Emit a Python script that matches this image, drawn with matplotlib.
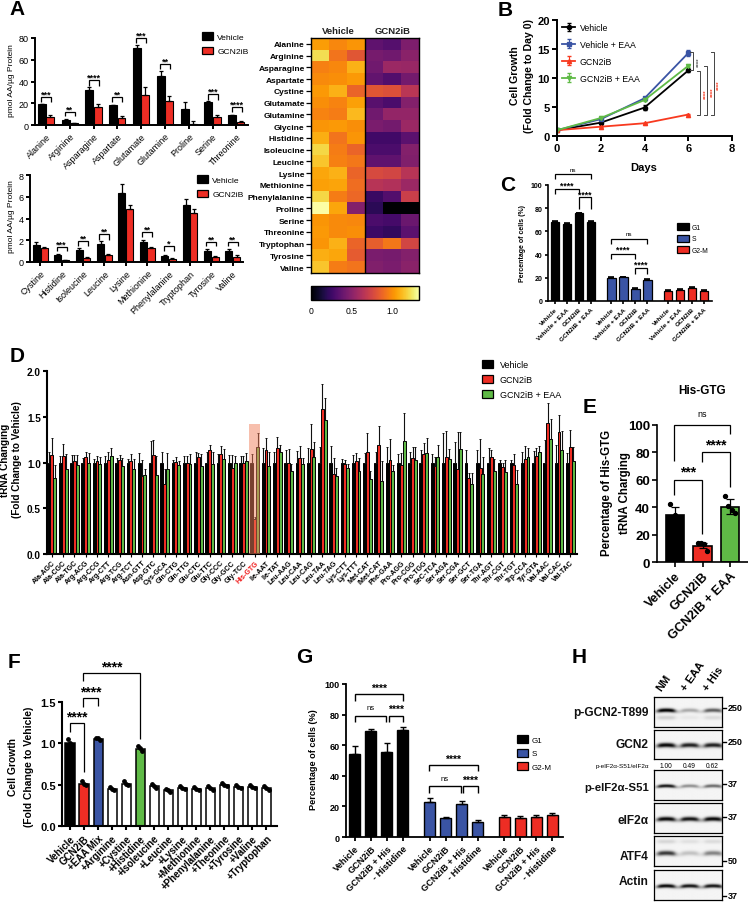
import numpy as np
import matplotlib
matplotlib.use('Agg')
import matplotlib.pyplot as plt
from matplotlib.patches import Patch, Rectangle

plt.rcParams['font.family'] = ['Liberation Sans', 'DejaVu Sans']

W, H = 748, 903
BLACK, RED, BLUE, GREEN = '#000000', '#ee2d24', '#3a54a4', '#5fba46'

# ---------- Panel A ----------
a1_names = ['Alanine', 'Arginine', 'Asparagine', 'Aspartate', 'Glutamate', 'Glutamine', 'Proline', 'Serine', 'Threonine']
a1_veh = [19, 4.5, 32, 18, 71, 45.5, 15, 21.5, 9]
a1_veh_top = [19.5, 5.5, 35, 18.5, 73.5, 49.5, 21, 22, 9.5]
a1_gcn = [7, 1.5, 16.5, 6.5, 27.5, 22.5, 1, 7.5, 2.5]
a1_gcn_top = [9, 2, 19.5, 8, 35, 26.5, 3.5, 9, 3.5]
a2_names = ['Cystine', 'Histidine', 'Isoleucine', 'Leucine', 'Lysine', 'Methionine', 'Phenylalanine', 'Tryptophan', 'Tyrosine', 'Valine']
a2_veh = [1.6, 0.6, 1.1, 1.65, 6.35, 1.85, 0.55, 5.25, 1.05, 1.05]
a2_veh_top = [1.8, 0.7, 1.3, 1.9, 7.2, 2.05, 0.65, 5.8, 1.15, 1.2]
a2_gcn = [1.25, 0.15, 0.4, 0.65, 4.9, 1.3, 0.25, 4.5, 0.5, 0.5]
a2_gcn_top = [1.35, 0.2, 0.5, 0.75, 5.25, 1.4, 0.35, 4.9, 0.55, 0.6]
heat_names = ['Alanine', 'Arginine', 'Asparagine', 'Aspartate', 'Cystine', 'Glutamate', 'Glutamine', 'Glycine', 'Histidine', 'Isoleucine', 'Leucine', 'Lysine', 'Methionine', 'Phenylalanine', 'Proline', 'Serine', 'Threonine', 'Tryptophan', 'Tyrosine', 'Valine']
heat_values = [
    [1.04, 0.98, 1.02, 0.36, 0.33, 0.46], [1.22, 0.92, 0.82, 0.44, 0.42, 0.50],
    [0.96, 0.98, 1.10, 0.42, 0.56, 0.55], [0.99, 1.00, 1.03, 0.37, 0.32, 0.43],
    [1.03, 1.10, 0.87, 0.82, 0.80, 0.66], [1.00, 0.97, 1.05, 0.34, 0.30, 0.48],
    [0.97, 0.95, 1.12, 0.42, 0.53, 0.53], [1.02, 1.03, 1.00, 0.45, 0.43, 0.56],
    [1.09, 0.92, 1.02, 0.27, 0.27, 0.35], [1.20, 0.95, 0.87, 0.30, 0.30, 0.48],
    [1.15, 0.96, 0.93, 0.36, 0.36, 0.47], [1.07, 1.10, 0.87, 0.77, 0.75, 0.65],
    [1.05, 1.06, 0.90, 0.65, 0.63, 0.56], [1.20, 0.95, 0.88, 0.24, 0.32, 0.72],
    [1.33, 1.07, 0.48, 0.20, 0.00, 0.00], [1.02, 0.99, 0.98, 0.30, 0.28, 0.40],
    [1.03, 0.99, 1.00, 0.25, 0.22, 0.35], [1.02, 1.10, 0.87, 0.85, 0.93, 0.75],
    [1.09, 1.07, 0.84, 0.45, 0.44, 0.48], [1.15, 0.95, 0.92, 0.47, 0.45, 0.50]]

# ---------- Panel B ----------
days = [0, 2, 4, 6]
b_series = ['Vehicle', 'Vehicle + EAA', 'GCN2iB', 'GCN2iB + EAA']
b_vehicle = [1, 2.3, 4.9, 11.3]
b_vehicle_err = [0.1, 0.15, 0.4, 0.2]
b_veh_eaa = [1, 2.9, 6.5, 14.3]
b_veh_eaa_err = [0.1, 0.15, 0.2, 0.5]
b_gcn = [1, 1.6, 2.2, 3.7]
b_gcn_err = [0.1, 0.1, 0.1, 0.1]
b_gcn_eaa = [1, 3.1, 6.2, 12.1]
b_gcn_eaa_err = [0.1, 0.15, 0.15, 0.2]

# ---------- Panel C ----------
c_labels = ['Vehicle', 'Vehicle + EAA', 'GCN2iB', 'GCN2iB + EAA']
c_g1 = [68.5, 66.5, 75.5, 68.5]
c_s = [19.5, 20.5, 10.5, 18]
c_g2m = [8.5, 9.5, 11, 9]
c_err = [0.8, 0.5, 0.7, 0.7]

# ---------- Panel D ----------
d_names = ['Ala-AGC', 'Ala-CGC', 'Ala-TGC', 'Arg-ACG', 'Arg-CCG', 'Arg-CTT', 'Arg-TCG', 'Arg-TCT', 'Asn-GTT', 'Asp-GTC', 'Cys-GCA', 'Gln-CTG', 'Gln-TTG', 'Glu-CTC', 'Glu-TTC', 'Gly-CCC', 'Gly-GCC', 'Gly-TCC', 'His-GTG', 'Ile-AAT', 'Ile-TAT', 'Leu-AAG', 'Leu-CAA', 'Leu-CAG', 'Leu-TAA', 'Leu-TAG', 'Lys-CTT', 'Lys-TTT', 'Met-CAT', 'iMet-CAT', 'Phe-GAA', 'Pro-AGG', 'Pro-CGG', 'Pro-TGG', 'SeC-TCA', 'Ser-AGA', 'Ser-CGA', 'Ser-GCT', 'Ser-TGA', 'Thr-AGT', 'Thr-CGT', 'Thr-TGT', 'Trp-CCA', 'Tyr-GTA', 'Val-AAC', 'Val-CAC', 'Val-TAC']
d_veh_top = [1.12, 1.07, 1.08, 1.05, 1.04, 1.07, 1.05, 1.04, 1.10, 1.24, 1.11, 1.03, 1.07, 1.12, 1.12, 1.09, 1.08, 1.07, 1.09, 1.16, 1.12, 1.14, 1.13, 1.16, 1.17, 1.18, 1.04, 1.08, 1.10, 1.11, 1.17, 1.09, 1.12, 1.14, 1.09, 1.32, 1.22, 1.14, 1.14, 1.16, 1.03, 1.03, 1.12, 1.13, 1.25, 1.19, 1.10]
d_red = [1.08, 1.07, 1.02, 1.06, 1.02, 1.03, 1.03, 1.02, 0.85, 1.08, 0.77, 1.01, 1.00, 1.055, 1.135, 1.09, 0.945, 1.00, 0.38, 1.14, 1.16, 0.99, 1.05, 1.15, 1.58, 0.87, 0.98, 1.02, 1.12, 1.19, 1.03, 0.97, 1.05, 1.09, 0.96, 1.06, 0.93, 0.83, 0.945, 1.055, 0.95, 0.97, 1.04, 1.07, 1.43, 1.33, 1.17]
d_red_top = [1.27, 1.20, 1.08, 1.12, 1.07, 1.12, 1.08, 1.09, 1.03, 1.25, 0.93, 1.06, 1.07, 1.10, 1.19, 1.18, 1.08, 1.07, 0.40, 1.27, 1.28, 1.15, 1.18, 1.42, 1.86, 1.05, 1.03, 1.10, 1.32, 1.40, 1.26, 1.10, 1.17, 1.21, 1.06, 1.34, 1.33, 0.89, 1.26, 1.135, 1.00, 1.095, 1.18, 1.16, 1.65, 1.52, 1.36]
d_green = [0.83, 0.93, 0.97, 1.00, 0.98, 1.07, 0.96, 0.93, 0.86, 0.86, 0.93, 0.97, 0.98, 0.965, 0.98, 1.04, 1.00, 1.015, 1.17, 0.96, 1.11, 0.91, 0.985, 1.06, 1.46, 0.85, 0.94, 0.91, 0.82, 0.80, 0.91, 1.23, 1.03, 1.10, 1.06, 1.04, 1.15, 0.77, 0.87, 0.91, 0.90, 0.77, 1.06, 1.12, 1.26, 1.14, 1.02]
d_green_top = [0.97, 1.09, 1.08, 1.10, 1.06, 1.16, 1.05, 1.04, 0.93, 1.07, 1.10, 1.02, 1.09, 1.09, 1.12, 1.15, 1.07, 1.10, 1.32, 1.11, 1.19, 0.98, 1.05, 1.22, 1.71, 0.94, 0.985, 1.05, 0.905, 1.015, 0.97, 1.54, 1.17, 1.27, 1.19, 1.15, 1.33, 0.89, 1.06, 1.04, 1.03, 0.92, 1.16, 1.18, 1.47, 1.34, 1.17]

# ---------- Panel E ----------
e_names = ['Vehicle', 'GCN2iB', 'GCN2iB + EAA']
e_vals = [34, 12, 40.5]
e_errs = [6, 2, 5.5]
e_points = [[42, 34, 29], [14, 14, 13, 8], [48, 41, 38, 35.5]]

# ---------- Panel F ----------
f_names = ['Vehicle', 'GCN2iB', '+EAA Mix', '+Arginine', '+Cystine', '+Histidine', '+Isoleucine', '+Leucine', '+Lysine', '+Methionine', '+Phenylalanine', '+Theonine', '+Tyrosine', '+Valine', '+Tryptophan']
f_vals = [1.0, 0.51, 1.05, 0.45, 0.51, 0.93, 0.48, 0.43, 0.46, 0.45, 0.46, 0.49, 0.47, 0.47, 0.46]
f_points = [[1.05, 1.0, 0.97], [0.55, 0.51, 0.49], [1.07, 1.06, 1.04], [0.47, 0.45, 0.44], [0.55, 0.51, 0.49], [0.97, 0.94, 0.91], [0.51, 0.48, 0.46], [0.45, 0.43, 0.41], [0.48, 0.46, 0.45], [0.47, 0.45, 0.44], [0.48, 0.46, 0.44], [0.52, 0.49, 0.48], [0.49, 0.47, 0.46], [0.49, 0.47, 0.46], [0.48, 0.46, 0.44]]
f_colors = [BLACK, RED, BLUE, 'white', 'white', GREEN, 'white', 'white', 'white', 'white', 'white', 'white', 'white', 'white', 'white']

# ---------- Panel G ----------
g_labels = ['Vehicle', 'GCN2iB', 'GCN2iB + His', '- Histidine']
g_g1 = [54.5, 69.5, 55.5, 70]
g_g1_top = [59.5, 70.5, 61.5, 72]
g_s = [23, 12.5, 21.5, 10]
g_s_top = [25.5, 13.2, 23.5, 10.8]
g_g2m = [13.2, 12.5, 13, 14.5]
g_g2m_top = [14.5, 14, 14.5, 15.8]

# ---------- Panel H ----------
h_names = ['p-GCN2-T899', 'GCN2', 'p-eIF2α-S51', 'eIF2α', 'ATF4', 'Actin']
h_lanes = ['NM', '+ EAA', '+ His']
h_ratio = ['1.00', '0.49', '0.62']
h_main = [[1.0, 0.30, 0.60], [0.95, 0.85, 0.85], [0.90, 0.40, 0.55], [0.95, 0.90, 0.95], [0.75, 0.20, 0.45], [0.95, 0.90, 0.90]]
h_side = [[0.15, 0.05, 0.10], [0, 0, 0], [0, 0, 0], [0, 0, 0], [0.12, 0.08, 0.10], [0, 0, 0]]
h_mw = ['250', '250', '37', '37', '50', '37']

# ---------- Drawing ----------
fig = plt.figure(figsize=(W / 100, H / 100), dpi=100, facecolor='white')


def ax_px(l, r, t, b):
    return fig.add_axes([l / W, 1 - b / H, (r - l) / W, (b - t) / H])


ov = fig.add_axes([0, 0, 1, 1], zorder=50)
ov.set_xlim(0, W)
ov.set_ylim(H, 0)
ov.axis('off')
ov.patch.set_alpha(0)


def style(ax, lw=1.4, tick=3, size=6, bold=False):
    for s in ['top', 'right']:
        ax.spines[s].set_visible(False)
    for s in ['left', 'bottom']:
        ax.spines[s].set_linewidth(lw)
    ax.tick_params(width=lw, length=tick, labelsize=size, pad=1.5)
    if bold:
        for t in ax.get_yticklabels():
            t.set_fontweight('bold')


def bracket(x0, x1, ytop, yl, yr=None, lw=0.9, color='k'):
    yr = yl if yr is None else yr
    ov.plot([x0, x0, x1, x1], [yl, ytop, ytop, yr], color=color, lw=lw, solid_joinstyle='miter', solid_capstyle='butt')


def label(x, y, s, size=6, weight='bold', color='k', rot=0, ha='center', va='center', **kw):
    ov.text(x, y, s, fontsize=size, fontweight=weight, color=color, rotation=rot, ha=ha, va=va, rotation_mode='anchor', **kw)


def patch_legend(ax, names, colors, x, y, size, spacing, hl=1.35, hh=1.0, pad=0.45):
    hs = [Patch(facecolor=c, edgecolor='k', linewidth=0.9) for c in colors]
    ax.legend(hs, names, loc='upper left', bbox_to_anchor=(x / W, 1 - y / H), bbox_transform=fig.transFigure,
              frameon=False, borderpad=0, borderaxespad=0, fontsize=size, handlelength=hl, handleheight=hh,
              labelspacing=spacing, handletextpad=pad)


def rot_labels(ax, names, size, weight='normal', pad=1.5):
    ax.set_xticklabels(names, rotation=45, ha='right', rotation_mode='anchor', fontsize=size, fontweight=weight)
    ax.tick_params(axis='x', pad=pad)


def two_bars(ax, names, v, vt, g, gt, w, off):
    x = np.arange(len(names))
    ax.bar(x - off, v, w, color=BLACK, edgecolor='k', lw=0.8)
    ax.bar(x + off, g, w, color=RED, edgecolor='k', lw=0.8)
    ax.errorbar(x - off, v, yerr=[np.zeros(len(v)), np.array(vt) - v], fmt='none', ecolor='k', elinewidth=0.9, capsize=1.5, capthick=0.9)
    ax.errorbar(x + off, g, yerr=[np.zeros(len(g)), np.array(gt) - g], fmt='none', ecolor='k', elinewidth=0.9, capsize=1.5, capthick=0.9)
    ax.set_xticks(x)


# A top
ax = ax_px(35, 248, 39, 126)
two_bars(ax, a1_names, a1_veh, a1_veh_top, a1_gcn, a1_gcn_top, 0.33, 0.175)
ax.set_xlim(-0.46, 8.49)
ax.set_ylim(0, 80)
ax.set_yticks([0, 20, 40, 60, 80])
style(ax, size=6.5)
rot_labels(ax, a1_names, 6.5)
patch_legend(ax, ['Vehicle', 'GCN2iB'], [BLACK, RED], 202, 33, 6.1, 0.7)
label(12, 81, 'pmol AA/µg Protein', 6, 'normal', rot=90)
for i, y0, y1, s in [(0, 98, 103, '***'), (1, 113, 117, '**'), (2, 81, 87, '****'), (3, 98, 103, '**'), (4, 39, 44, '***'), (5, 65, 70, '**'), (7, 95, 101, '***'), (8, 108, 113, '****')]:
    cx = 46 + i * 23.83
    bracket(cx - 5, cx + 5, y0, y1)
    label(cx, y0 - 2.5, s, 6.5)

# A bottom
ax = ax_px(30, 243, 176, 263)
two_bars(ax, a2_names, a2_veh, a2_veh_top, a2_gcn, a2_gcn_top, 0.33, 0.18)
ax.set_xlim(-0.477, 9.48)
ax.set_ylim(0, 8)
ax.set_yticks([0, 2, 4, 6, 8])
style(ax, size=6.5)
rot_labels(ax, a2_names, 6.5)
patch_legend(ax, ['Vehicle', 'GCN2iB'], [BLACK, RED], 197, 176, 6.1, 0.7)
label(12, 217, 'pmol AA/µg Protein', 6, 'normal', rot=90)
for i, y0, y1, s in [(1, 248, 252, '***'), (2, 242, 247, '**'), (3, 235, 241, '**'), (5, 233, 238, '**'), (6, 247, 252, '*'), (8, 243, 247, '**'), (9, 243, 247, '**')]:
    cx = 40.2 + i * 21.4
    bracket(cx - 5, cx + 5, y0, y1)
    label(cx, y0 - 2.5, s, 6.5)

# Heatmap
ax = ax_px(311, 419, 39, 274)
im = ax.imshow(heat_values, cmap='inferno', vmin=0, vmax=1.33, aspect='auto', interpolation='nearest')
ax.set_yticks(range(len(heat_names)))
ax.set_yticklabels(heat_names, fontsize=6, fontweight='bold')
ax.set_xticks([])
ax.tick_params(axis='y', width=0.9, length=3.5, pad=1)
for s in ax.spines.values():
    s.set_linewidth(1.0)
ax.axvline(2.5, color='k', lw=1.0)
label(338.5, 31, 'Vehicle', 6.8, color='#222222')
label(393, 31, 'GCN2iB', 6.8, color='#222222')
cax = ax_px(311, 419, 287, 301)
cb = fig.colorbar(im, cax=cax, orientation='horizontal')
cb.set_ticks([0, 0.5, 1.0])
cb.set_ticklabels(['0', '0.5', '1.0'])
cax.tick_params(length=0, labelsize=6.2, pad=4)
cb.outline.set_linewidth(1.0)

# B
ax = ax_px(557, 732, 21, 137)
for vals, errs, c, m, n in [(b_vehicle, b_vehicle_err, BLACK, 'o', b_series[0]), (b_veh_eaa, b_veh_eaa_err, BLUE, 's', b_series[1]),
                            (b_gcn, b_gcn_err, '#f8391f', '^', b_series[2]), (b_gcn_eaa, b_gcn_eaa_err, GREEN, 'v', b_series[3])]:
    ax.errorbar(days, vals, yerr=errs, color=c, marker=m, ms=3, lw=1.3, capsize=1.5, elinewidth=0.8, label=n)
ax.set_xlim(0, 8)
ax.set_ylim(0, 20)
ax.set_xticks([0, 2, 4, 6, 8])
ax.set_yticks([0, 5, 10, 15, 20])
style(ax, size=8, bold=True, tick=3.5)
for t in ax.get_xticklabels():
    t.set_fontweight('bold')
h, l = ax.get_legend_handles_labels()
ax.legend(h, l, loc='upper left', bbox_to_anchor=(562 / W, 1 - 24 / H), bbox_transform=fig.transFigure, frameon=False,
          borderpad=0, borderaxespad=0, fontsize=6.3, handlelength=1.5, labelspacing=0.9, handletextpad=0.5)
label(515, 76, 'Cell Growth', 7.6, rot=90)
label(529, 76, '(Fold Change to Day 0)', 7.6, rot=90)
label(644, 168, 'Days', 8)
for x, y0, y1, sx, sy, col in [(693, 53, 71, 699, 62, '#555555'), (700, 72, 116, 706, 94, '#f8391f'), (707, 67, 116, 713, 92, '#f8391f'), (714, 53, 116, 719, 85, '#f8391f')]:
    ov.plot([x - 3, x, x, x - 3], [y0, y0, y1, y1], color='#444444', lw=0.7)
    label(sx, sy, '****', 4.5, color=col, rot=90)

# C
ax = ax_px(548, 712, 186, 302)
cx = np.arange(4)
for vals, c, off, n in [(c_g1, BLACK, 0, 'G1'), (c_s, BLUE, 4.7, 'S'), (c_g2m, RED, 9.4, 'G2-M')]:
    ax.bar(cx + off, vals, 0.7, color=c, edgecolor='k', lw=0.9, label=n)
    ax.errorbar(cx + off, vals, yerr=[np.zeros(4), c_err], fmt='none', ecolor='k', elinewidth=0.9, capsize=2.2, capthick=1.2)
ax.set_xlim(-0.58, 13.08)
ax.set_ylim(0, 100)
ax.set_yticks([0, 20, 40, 60, 80, 100])
ax.set_xticks(np.concatenate([cx, cx + 4.7, cx + 9.4]))
style(ax, size=5, lw=1.2, tick=2.5, bold=True)
rot_labels(ax, c_labels * 3, 4.6, 'bold')
patch_legend(ax, ['G1', 'S', 'G2-M'], [BLACK, BLUE, RED], 677, 224, 4.9, 0.55, hl=1.75, hh=1.2)
label(523, 244, 'Percentage of cells (%)', 5, rot=90)
for a, b, t, d, s, sy in [(555, 591, 175, 180, 'ns', 170.5), (555, 579, 190, 195, '****', 186), (579, 591, 198, 210, '****', 195),
                          (611, 647, 240, 245, 'ns', 235), (611, 635, 255, 260, '****', 250.5), (635, 647, 269, 275, '****', 265)]:
    bracket(a, b, t, d)
    label((a + b) / 2, sy, s, 4.5 if s == 'ns' else 6.2, 'normal' if s == 'ns' else 'bold')

# D
ax = ax_px(47, 577, 372, 555)
dx = np.arange(len(d_names))
d_veh = np.ones(len(d_names))
w, off = 0.26, 0.25
ax.bar(dx - off, d_veh, w, color=BLACK, edgecolor='k', lw=0.7, label='Vehicle')
ax.bar(dx, d_red, w, color=RED, edgecolor='k', lw=0.7, label='GCN2iB')
ax.bar(dx + off, d_green, w, color=GREEN, edgecolor='k', lw=0.7, label='GCN2iB + EAA')
for x, v, t in [(dx - off, d_veh, d_veh_top), (dx, d_red, d_red_top), (dx + off, d_green, d_green_top)]:
    ax.errorbar(x, v, yerr=[np.zeros(len(v)), np.array(t) - v], fmt='none', ecolor='#111111', elinewidth=0.8, capsize=0.9, capthick=0.7)
ax.add_patch(Rectangle((18 - 0.5, 0), 1.0, 1.42, facecolor='#f0805c', alpha=0.5, edgecolor='none', zorder=5))
ax.set_xlim(-0.44, 46.6)
ax.set_ylim(0, 2)
ax.set_xticks(dx)
ax.set_yticks([0, 0.5, 1.0, 1.5, 2.0])
ax.set_yticklabels(['0.0', '0.5', '1.0', '1.5', '2.0'])
style(ax, size=7.2, lw=1.5, tick=3, bold=True)
rot_labels(ax, d_names, 5.1, 'bold', pad=1)
ax.tick_params(axis='x', width=0.8, length=2.5)
for t in ax.get_xticklabels():
    if t.get_text() == 'His-GTG':
        t.set_color('#f01818')
patch_legend(ax, ['Vehicle', 'GCN2iB', 'GCN2iB + EAA'], [BLACK, RED, GREEN], 482, 361, 6.5, 0.65, hl=1.22, hh=1.0, pad=0.75)
label(5, 460, 'tRNA Changing', 7.2, rot=90)
label(17, 460, '(Fold Change to Vehicle)', 7.2, rot=90)

# E
ax = ax_px(657, 748, 426, 563)
ex = np.arange(3)
ax.bar(ex, e_vals, 0.66, color=[BLACK, RED, GREEN], edgecolor='k', lw=1.2)
ax.errorbar(ex, e_vals, yerr=e_errs, fmt='none', ecolor='k', elinewidth=0.9, capsize=3, capthick=0.9)
for i, pts in enumerate(e_points):
    ax.scatter(i + np.linspace(-0.18, 0.18, len(pts)), pts, s=8, color='k', zorder=5, clip_on=False)
ax.set_xlim(-0.65, 2.65)
ax.set_ylim(0, 100)
ax.set_xticks(ex)
ax.set_yticks([0, 20, 40, 60, 80, 100])
style(ax, size=9.5, lw=1.2, tick=3.5, bold=True)
rot_labels(ax, e_names, 9.2, 'bold', pad=2)
label(702, 391, 'His-GTG', 8.5)
label(607, 493, 'Percentage of His-GTG', 8.3, rot=90)
label(625, 493, 'tRNA Charging', 8.3, rot=90)
bracket(674.5, 702, 481, 496, 535)
bracket(702, 730, 453, 463, 488)
bracket(674.5, 730, 426, 462, 435)
label(688, 472, '***', 10)
label(716, 445, '****', 10)
label(702, 415, 'ns', 6.5, 'normal')

# F
ax = ax_px(62, 277, 703, 827)
fx = np.arange(len(f_names))
ax.bar(fx, f_vals, 0.65, color=f_colors, edgecolor='k', lw=1.1)
for i, pts in enumerate(f_points):
    ax.scatter(i + np.linspace(-0.16, 0.16, 3), pts, s=6, color='k', zorder=5, clip_on=False)
ax.set_xlim(-0.57, 14.75)
ax.set_ylim(0, 1.5)
ax.set_xticks(fx)
ax.set_yticks([0, 0.5, 1.0, 1.5])
ax.set_yticklabels(['0.0', '0.5', '1.0', '1.5'])
style(ax, size=8, lw=1.5, tick=3, bold=True)
rot_labels(ax, f_names, 7, 'bold', pad=2)
label(13, 767, 'Cell Growth', 7.4, rot=90)
label(29, 767, '(Fold Change to Vehicle)', 7.4, rot=90)
bracket(83.5, 140.5, 674, 682, 740)
bracket(83.5, 98.5, 699, 708, 707)
bracket(70, 84, 724, 733, 773)
label(112, 667, '****', 10)
label(91, 692, '****', 10)
label(77, 717, '****', 10)

# G
ax = ax_px(346, 563, 685, 838)
gx = np.arange(4)
for vals, tops, c, off, n in [(g_g1, g_g1_top, BLACK, 0, 'G1'), (g_s, g_s_top, BLUE, 4.66, 'S'), (g_g2m, g_g2m_top, RED, 9.33, 'G2-M')]:
    ax.bar(gx + off, vals, 0.69, color=c, edgecolor='k', lw=1.0, label=n)
    ax.errorbar(gx + off, vals, yerr=[np.zeros(4), np.array(tops) - vals], fmt='none', ecolor='k', elinewidth=1.0, capsize=2.5, capthick=1.0)
ax.set_xlim(-0.56, 13.0)
ax.set_ylim(0, 100)
ax.set_yticks([0, 20, 40, 60, 80, 100])
ax.set_xticks(np.concatenate([gx, gx + 4.66, gx + 9.33]))
style(ax, size=6.5, lw=1.3, tick=3, bold=True)
rot_labels(ax, g_labels * 3, 6.6, 'bold', pad=2)
patch_legend(ax, ['G1', 'S', 'G2-M'], [BLACK, BLUE, RED], 517, 736, 5.8, 0.62, hl=1.35, hh=1.15, pad=0.5)
label(314, 760, 'Percentage of cells (%)', 6.6, rot=90)
for a, b, t, d, s, sy in [(355, 403, 695, 702, '****', 689), (355, 386, 717, 723, 'ns', 709), (389, 403, 717, 723, '****', 710),
                          (429, 478, 766, 772, '****', 760), (429, 461, 787, 794, 'ns', 780), (463, 478, 787, 794, '****', 781)]:
    bracket(a, b, t, d, lw=1.0)
    label((a + b) / 2, sy, s, 5.5 if s == 'ns' else 7.5, 'normal' if s == 'ns' else 'bold')

# H
panels = [(698, 728, 0.44, 0.69, 2.0), (731, 760, 0.52, 0.18, 2.3), (771, 801, 0.53, 0.18, 1.7), (804, 834, 0.53, 0.18, 2.2), (837, 867, 0.57, 0.18, 2.4), (871, 901, 0.53, 0.18, 1.9)]
name_y = [713, 745, 788, 821, 857, 882]
mw_y = [709, 743, 785, 818, 862, 897]
lane_x = [666, 689, 712]
for i, (t, b, fm, fs, sig) in enumerate(panels):
    ax = ax_px(654, 722, t, b)
    xx = np.arange(654, 722, 0.5)
    yy = np.linspace(t, b, 80)
    img = np.full((80, xx.size), 0.04)
    for lane, m, side in zip(lane_x, h_main[i], h_side[i]):
        prof = 1 / (1 + ((xx - lane) / 8.8) ** 6)
        bow = 0.8 * ((xx - lane) / 9) ** 2
        for j, y in enumerate(yy):
            img[j] += m * prof * np.exp(-((y - (t + fm * (b - t)) - bow) / sig) ** 2)
            img[j] += side * prof * np.exp(-((y - (t + fs * (b - t))) / 2.2) ** 2)
    ax.imshow(np.clip(img, 0, 1), cmap='gray_r', vmin=0, vmax=1, aspect='auto', interpolation='bilinear')
    ax.set_xticks([])
    ax.set_yticks([])
    for s in ax.spines.values():
        s.set_linewidth(0.9)
    label(649, name_y[i], h_names[i], 8.6 if i != 2 else 8.2, ha='right', color='#111111')
    label(728, mw_y[i], h_mw[i], 6.5, ha='left')
    ov.plot([723, 726], [mw_y[i], mw_y[i]], color='k', lw=1.0)
for x, s in zip([663, 688, 710], h_lanes):
    label(x, 693, s, 8, rot=55, ha='left', va='bottom')
label(649, 767, 'p-eIF2α-S51/eIF2α', 4.6, 'normal', ha='right')
for x, s in zip(lane_x, h_ratio):
    label(x, 767, s, 4.8, 'normal')

# Panel letters
for s, x, y in [('A', 9, 15), ('B', 498, 16), ('C', 500, 191), ('D', 10, 362), ('E', 583, 413), ('F', 8, 668), ('G', 296, 663), ('H', 572, 663)]:
    label(x, y, s, 15, ha='left', va='baseline')

fig.savefig('out.png', dpi=100)
